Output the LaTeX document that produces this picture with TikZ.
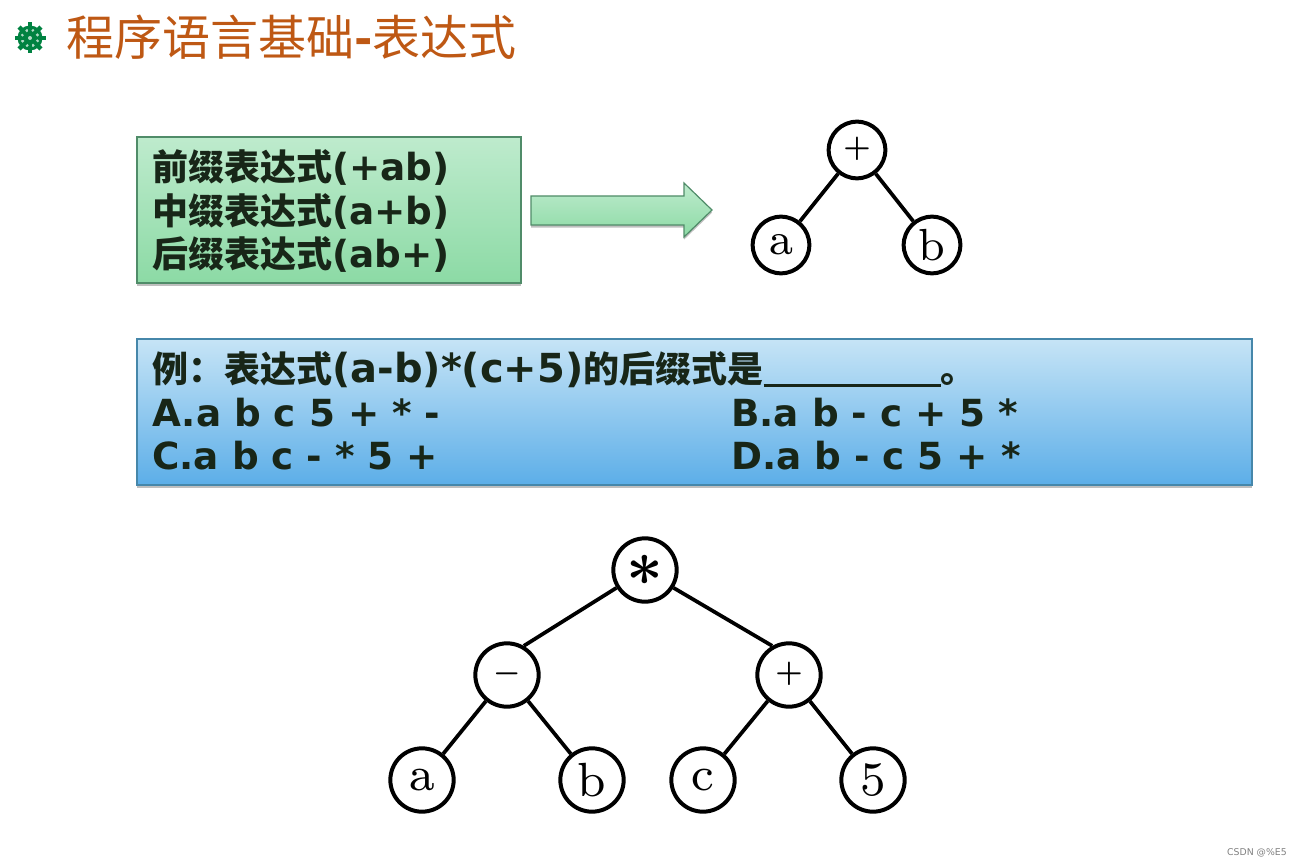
\documentclass[tikz,border=0pt]{standalone}
\usepackage{fontspec}
\usepackage{amssymb, amsmath}
\newfontfamily\cjk{Noto Sans CJK SC}
\newfontfamily\latinbox{DejaVu Sans}
\usetikzlibrary{shadows}
\definecolor{titleorange}{RGB}{190,88,20}
\definecolor{wheelgreen}{RGB}{0,130,65}
\definecolor{boxink}{RGB}{24,38,24}
\definecolor{greentop}{RGB}{190,235,205}
\definecolor{greenlow}{RGB}{140,218,165}
\definecolor{greenline}{RGB}{80,140,105}
\definecolor{bluetop}{RGB}{198,228,246}
\definecolor{bluelow}{RGB}{92,174,232}
\definecolor{blueline}{RGB}{70,135,170}
\newcommand{\zh}[1]{{\cjk\bfseries\fontsize{27}{27}\selectfont #1}}
\newcommand{\treelabel}[2][4.8]{\raisebox{-2pt}{\scalebox{#1}{\fontsize{7.5}{7.5}\selectfont #2}}}
\tikzset{
  opnode/.style={circle,draw=black,line width=3pt,fill=white,minimum size=47.5pt,inner sep=0pt},
  smallnode/.style={opnode,minimum size=42.5pt},
  treeedge/.style={line width=2.8pt},
  boxtext/.style={anchor=west,inner sep=0pt,text=boxink,font=\latinbox\bfseries\fontsize{28}{28}\selectfont},
  questext/.style={boxtext,font=\latinbox\bfseries\fontsize{30}{30}\selectfont},
  boxshadow/.style={drop shadow={shadow xshift=0pt,shadow yshift=-2pt,fill=black!50}},
}
\newcommand{\opsign}[1]{\raisebox{5pt}{\scalebox{2.3}{$\boldsymbol{#1}$}}}
\begin{document}
\begin{tikzpicture}[x=0.75pt,y=0.75pt,yscale=-1,xscale=1]
\useasboundingbox (0,0) rectangle (1301,866);

%Title line
\fill [wheelgreen] (30,38) circle (12.5);
\foreach \a in {0,45,...,315} {
  \draw [wheelgreen,line width=3.4pt] (30,38) -- ++(\a:15.5);
  \fill [white!70!wheelgreen] (30,38) ++(\a+22.5:8) circle (1.7);
}
\fill [white!70!wheelgreen] (30,38) circle (2);
\node (title) [anchor=west,inner sep=0pt,text=titleorange,font=\cjk\fontsize{36}{36}\selectfont] at (66,37) {程序语言基础{\bfseries -}表达式};

%Green box
\draw [draw=greenline,line width=0.9pt,top color=greentop,bottom color=greenlow,boxshadow] (137,137) rectangle (521,283);
\node (pre) [boxtext] at (152,168) {\zh{前缀表达式}(+ab)};
\node (mid) [boxtext] at (152,211) {\zh{中缀表达式}(a+b)};
\node (post) [boxtext] at (152,254) {\zh{后缀表达式}(ab+)};

%Arrow
\draw [draw=greenline,line width=0.9pt,top color=greentop,bottom color=greenlow,boxshadow] (531,196) -- (684,196) -- (684,183) -- (712,210) -- (684,237) -- (684,225) -- (531,225) -- cycle ;

%Small tree
\node (plus) [smallnode] at (857,150) {\opsign{+}};
\node (a) [smallnode] at (781,245) {\treelabel[4.5]{a}};
\node (b) [smallnode] at (932,245) {\treelabel[4.5]{b}};
\draw [treeedge] (plus) -- (a) ;
\draw [treeedge] (plus) -- (b) ;

%Blue box
\draw [draw=blueline,line width=0.9pt,top color=bluetop,bottom color=bluelow,boxshadow] (137,339) rectangle (1252,485);
\node (ques) [questext] at (152,370) {\zh{例：表达式}(a-b)*(c+5)\zh{的后缀式是}\rule[-3pt]{133pt}{1.8pt}\zh{。}};
\node (optA) [boxtext] at (152,413) {A.a b c 5 + * -};
\node (optB) [boxtext] at (731,413) {B.a b - c + 5 *};
\node (optC) [boxtext] at (152,456) {C.a b c - * 5 +};
\node (optD) [boxtext] at (731,456) {D.a b - c 5 + *};

%Big tree
\node (times) [opnode] at (645,570) {\scalebox{4.8}{$\boldsymbol{\ast}$}};
\node (minus) [opnode] at (507,675) {\opsign{-}};
\node (plusb) [opnode] at (789,675) {\opsign{+}};
\node (aa) [opnode] at (422,780) {\treelabel{a}};
\node (bb) [opnode] at (592,780) {\treelabel{b}};
\node (cc) [opnode] at (703,780) {\treelabel{c}};
\node (five) [opnode] at (873,780) {\treelabel{5}};
\draw [treeedge] (times.212) -- (minus.60) ;
\draw [treeedge] (times.-32) -- (plusb.120) ;
\draw [treeedge] (minus) -- (aa) ;
\draw [treeedge] (minus) -- (bb) ;
\draw [treeedge] (plusb) -- (cc) ;
\draw [treeedge] (plusb) -- (five) ;

\node (mark) [anchor=east,inner sep=0pt,text=black!50,font=\latinbox\fontsize{7}{7}\selectfont] at (1287,853) {CSDN @\%E5};
\end{tikzpicture}
\end{document}
